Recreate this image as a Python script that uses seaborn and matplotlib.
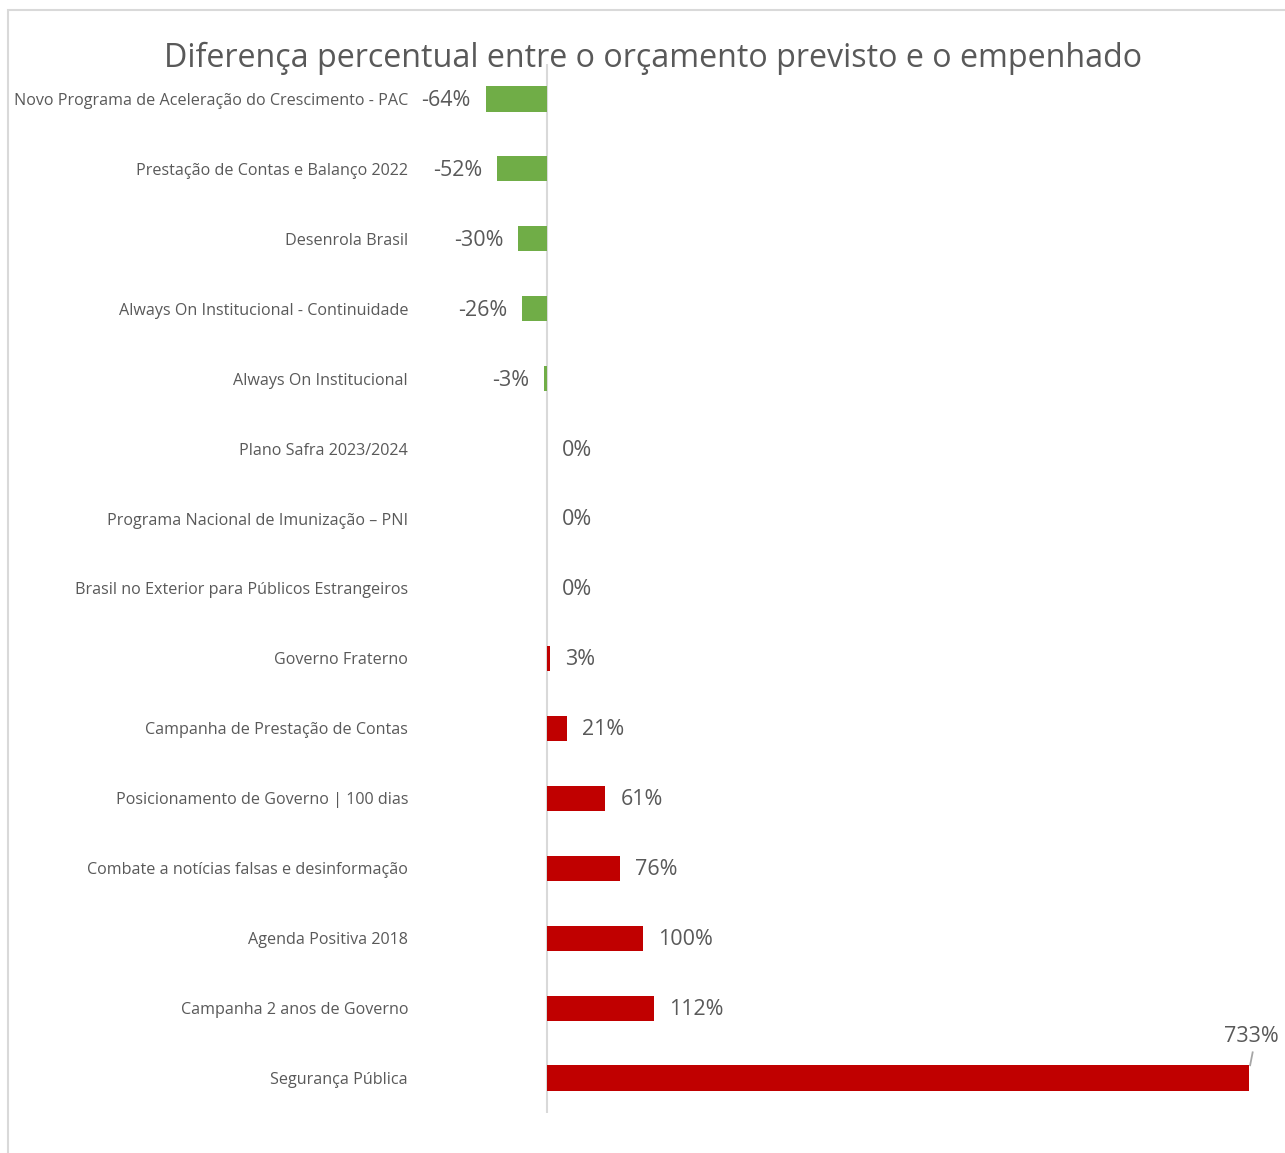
import pandas as pd
import matplotlib.pyplot as plt
import seaborn as sns
from matplotlib.patches import Rectangle

# Dados do grafico
categorias = [
    'Novo Programa de Aceleração do Crescimento - PAC',
    'Prestação de Contas e Balanço 2022',
    'Desenrola Brasil',
    'Always On Institucional - Continuidade',
    'Always On Institucional',
    'Plano Safra 2023/2024',
    'Programa Nacional de Imunização – PNI',
    'Brasil no Exterior para Públicos Estrangeiros',
    'Governo Fraterno',
    'Campanha de Prestação de Contas',
    'Posicionamento de Governo | 100 dias',
    'Combate a notícias falsas e desinformação',
    'Agenda Positiva 2018',
    'Campanha 2 anos de Governo',
    'Segurança Pública',
]
diferenca = [-64, -52, -30, -26, -3, 0, 0, 0, 3, 21, 61, 76, 100, 112, 733]

df = pd.DataFrame({'categoria': categorias, 'diferenca': diferenca})
df['sinal'] = ['neg' if v < 0 else 'pos' for v in df['diferenca']]

sns.set_style('white')
plt.rcParams['font.family'] = ['Open Sans', 'DejaVu Sans']

cinza = '#595959'
fig = plt.figure(figsize=(12.85, 11.53), dpi=100)
W, H = 1285, 1153
ax = fig.add_axes([415 / W, 1 - 1113 / H, (1262 - 415) / W, (1113 - 64) / H])

ax.axvline(0, color='#D9D9D9', lw=1.5, zorder=0)
sns.barplot(data=df, x='diferenca', y='categoria', hue='sinal',
            palette={'neg': '#70AD47', 'pos': '#C00000'}, dodge=False,
            legend=False, width=0.36, orient='h', saturation=1,
            linewidth=0, ax=ax)

escala = 0.9577  # px por ponto percentual
ax.set_xlim((415 - 547) / escala, (1262 - 547) / escala)
ax.set_ylim(len(categorias) - 0.5, -0.5)

for s in ['top', 'right', 'bottom', 'left']:
    ax.spines[s].set_visible(False)
ax.set_xticks([])
ax.set_xlabel('')
ax.set_ylabel('')
ax.tick_params(axis='y', length=0, pad=5, labelsize=11.6, labelcolor=cinza)

off = 15 / escala
for i, v in enumerate(diferenca):
    txt = f'{v}%'
    if v == max(diferenca):
        # rotulo acima da barra com linha guia
        ax.text(v + 3, i - 0.6, txt, ha='center', va='center', fontsize=15.5, color=cinza)
        ax.plot([v + 4, v + 1], [i - 0.38, i - 0.17], color='#A6A6A6', lw=1.3,
                solid_capstyle='butt')
    elif v < 0:
        ax.text(v - off, i + 0.02, txt, ha='right', va='center', fontsize=15.5, color=cinza)
    else:
        ax.text(v + off, i + 0.02, txt, ha='left', va='center', fontsize=15.5, color=cinza)

fig.text(653 / W, 1 - 58 / H, 'Diferença percentual entre o orçamento previsto e o empenhado',
         ha='center', va='center', fontsize=23.2, color=cinza)

fig.patches.append(Rectangle((8 / W, -0.1), 1.2, 1 - 10 / H + 0.1,
                             transform=fig.transFigure, fill=False,
                             edgecolor='#D9D9D9', lw=1.5))

fig.savefig('out.png', dpi=100)
plt.close()
